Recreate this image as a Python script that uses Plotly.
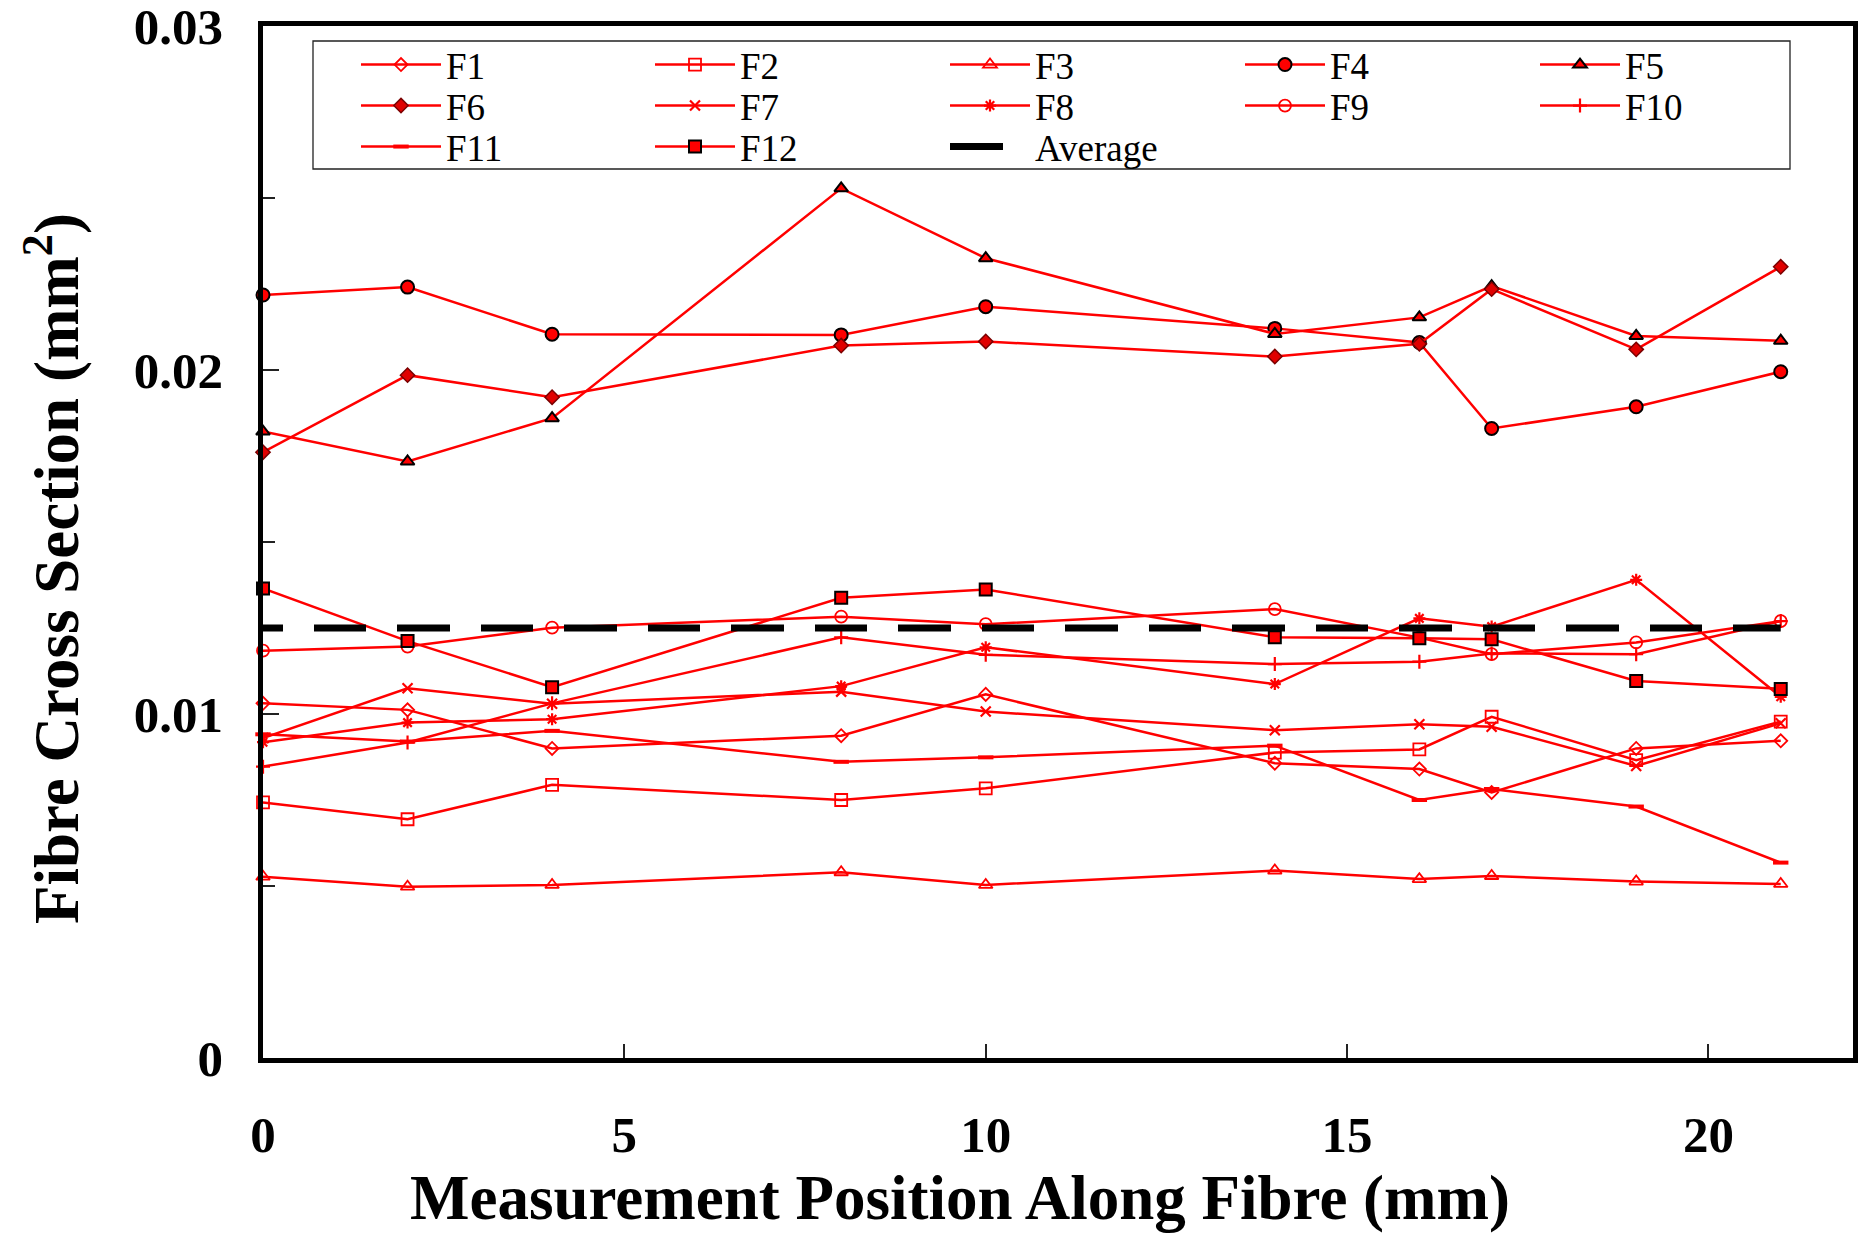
import plotly.graph_objects as go

# Measurement positions along the fibre (mm)
positions = [0, 2, 4, 8, 10, 14, 16, 17, 19, 21]

# Cross-section area of each fibre at every position (mm^2)
f1 = [0.01031, 0.01012, 0.00900, 0.00937, 0.01057, 0.00857, 0.00840, 0.00772, 0.00900, 0.00922]
f2 = [0.00743, 0.00694, 0.00794, 0.00750, 0.00784, 0.00888, 0.00897, 0.00992, 0.00866, 0.00978]
f3 = [0.00527, 0.00498, 0.00503, 0.00540, 0.00503, 0.00545, 0.00520, 0.00529, 0.00513, 0.00506]
f4 = [0.02218, 0.02241, 0.02104, 0.02102, 0.02184, 0.02121, 0.02080, 0.01830, 0.01893, 0.01995]
f5 = [0.01821, 0.01734, 0.01860, 0.02528, 0.02325, 0.02105, 0.02153, 0.02244, 0.02099, 0.02085]
f6 = [0.01761, 0.01985, 0.01921, 0.02071, 0.02083, 0.02039, 0.02076, 0.02235, 0.02060, 0.02300]
f7 = [0.00930, 0.01075, 0.01030, 0.01065, 0.01007, 0.00953, 0.00970, 0.00963, 0.00849, 0.00973]
f8 = [0.00918, 0.00975, 0.00985, 0.01081, 0.01194, 0.01087, 0.01278, 0.01254, 0.01390, 0.01050]
f9 = [0.01184, 0.01196, 0.01251, 0.01283, 0.01261, 0.01305, 0.01222, 0.01174, 0.01208, 0.01270]
f10 = [0.00847, 0.00917, 0.01031, 0.01223, 0.01172, 0.01145, 0.01152, 0.01176, 0.01174, 0.01270]
f11 = [0.00941, 0.00920, 0.00951, 0.00861, 0.00874, 0.00908, 0.00750, 0.00782, 0.00731, 0.00568]
f12 = [0.01365, 0.01212, 0.01078, 0.01338, 0.01362, 0.01223, 0.01220, 0.01217, 0.01096, 0.01073]

average_x = [0, 21]
average_y = [0.0125, 0.0125]

series_names = ["F1", "F2", "F3", "F4", "F5", "F6", "F7", "F8", "F9", "F10", "F11", "F12"]
series_values = [f1, f2, f3, f4, f5, f6, f7, f8, f9, f10, f11, f12]

y_ticks = [0, 0.01, 0.02, 0.03]
y_tick_labels = ["0", "0.01", "0.02", "0.03"]
y_minor_ticks = [0.005, 0.015, 0.025]
x_ticks = [0, 5, 10, 15, 20]

RED = "#ff0000"
SERIF = "Liberation Serif"

# marker styling per fibre: (symbol, size, fill, outline colour, outline width)
marker_styles = {
    "F1": ("diamond-open", 10, RED, RED, 1.8),
    "F2": ("square-open", 12, RED, RED, 1.8),
    "F3": ("triangle-up-open", 12, RED, RED, 1.8),
    "F4": ("circle", 13, RED, "black", 2),
    "F5": ("triangle-up", 12, RED, "black", 2),
    "F6": ("diamond", 11, "#e00000", "#7a0000", 1.5),
    "F7": ("x-thin-open", 10, RED, RED, 2.2),
    "F8": ("asterisk-open", 10, RED, RED, 2.2),
    "F9": ("circle-open", 12, RED, RED, 1.8),
    "F10": ("cross-thin-open", 10, RED, RED, 2.2),
    "F11": ("line-ew-open", 11, RED, RED, 4),
    "F12": ("square", 12, RED, "black", 2),
}

# figure geometry (px) used to place the legend grid and titles
W, H = 1858, 1233
L, R, T, B = 263, 5, 26, 175
plot_w, plot_h = W - L - R, H - T - B


def px_to_paper_x(px):
    return (px - L) / plot_w


def px_to_paper_y(py):
    return (H - B - py) / plot_h


# legend grid: 5 columns x 3 rows inside a framed box above the data
col_px = [361, 655, 950, 1245, 1540]
row_px = [65, 106, 147]
legend_font = dict(family=SERIF, size=37, color="black")

fig = go.Figure()
legend_layouts = {}

entry_names = series_names + ["Average"]
for i, name in enumerate(entry_names):
    key = "legend" if i == 0 else f"legend{i + 1}"
    r, c = divmod(i, 5)
    legend_layouts[key] = dict(
        x=px_to_paper_x(col_px[c] - 5),
        y=px_to_paper_y(row_px[r]),
        xanchor="left",
        yanchor="middle",
        bgcolor="rgba(0,0,0,0)",
        borderwidth=0,
        font=legend_font,
        itemwidth=80,
        itemclick=False,
        itemdoubleclick=False,
    )

for i, (name, vals) in enumerate(zip(series_names, series_values)):
    sym, size, fill, outline, olw = marker_styles[name]
    key = "legend" if i == 0 else f"legend{i + 1}"
    fig.add_trace(go.Scatter(
        x=positions, y=vals, name=name, mode="lines+markers",
        line=dict(color=RED, width=2.5),
        marker=dict(symbol=sym, size=size, color=fill,
                    line=dict(color=outline, width=olw)),
        legend=key, cliponaxis=False,
    ))

# dashed average line; the dash pattern is phased so a short dash starts at x = 0
avg_dash = [20, 31] + [52, 31, 53, 31] * 10
fig.add_trace(go.Scatter(
    x=average_x, y=average_y, mode="lines", name="Average",
    line=dict(color="black", width=7, dash=",".join(f"{d}px" for d in avg_dash)),
    showlegend=False,
))
# legend entry for the average line
fig.add_trace(go.Scatter(
    x=[None], y=[None], mode="lines", name="Average",
    line=dict(color="black", width=7, dash="53px,31px"),
    legend="legend13",
))

tick_font = dict(family=SERIF, size=51, color="black", weight="bold")
title_font = dict(family=SERIF, size=63, color="black", weight="bold")

fig.update_layout(
    width=W, height=H,
    margin=dict(l=L, r=R, t=T, b=B, pad=0, autoexpand=False),
    paper_bgcolor="white", plot_bgcolor="white",
    showlegend=True,
    xaxis=dict(
        range=[0, 22], tickmode="array", tickvals=x_ticks,
        ticks="inside", ticklen=14, tickwidth=1.5, tickcolor="#222",
        showline=True, linecolor="black", linewidth=4.5, mirror=True,
        showgrid=False, zeroline=False, tickfont=tick_font,
        ticklabelstandoff=28, ticklabeloverflow="allow", automargin=False,
    ),
    yaxis=dict(
        range=[0, 0.03], tickmode="array", tickvals=y_ticks, ticktext=y_tick_labels,
        ticks="inside", ticklen=16, tickwidth=1.5, tickcolor="#222",
        minor=dict(tickmode="array", tickvals=y_minor_ticks, ticks="inside",
                   ticklen=12, tickwidth=1.5, tickcolor="#222"),
        showline=True, linecolor="black", linewidth=4.5, mirror=True,
        showgrid=False, zeroline=False, tickfont=tick_font,
        ticklabelstandoff=25, ticklabeloverflow="allow", automargin=False,
    ),
    shapes=[dict(
        type="rect", xref="paper", yref="paper",
        x0=px_to_paper_x(313), x1=px_to_paper_x(1790),
        y0=px_to_paper_y(169), y1=px_to_paper_y(41),
        line=dict(color="#222", width=1.3), fillcolor="rgba(0,0,0,0)", layer="below",
    )],
    annotations=[
        dict(text="Measurement Position Along Fibre (mm)", xref="paper", yref="paper",
             x=px_to_paper_x(960), y=px_to_paper_y(1198), xanchor="center", yanchor="middle",
             showarrow=False, font=title_font),
        dict(text="Fibre Cross Section (mm<sup>2</sup>)", xref="paper", yref="paper",
             x=px_to_paper_x(52), y=px_to_paper_y(569), xanchor="center", yanchor="middle",
             textangle=-90, showarrow=False, font=title_font),
    ],
    **legend_layouts,
)

fig.write_html("out.html")
